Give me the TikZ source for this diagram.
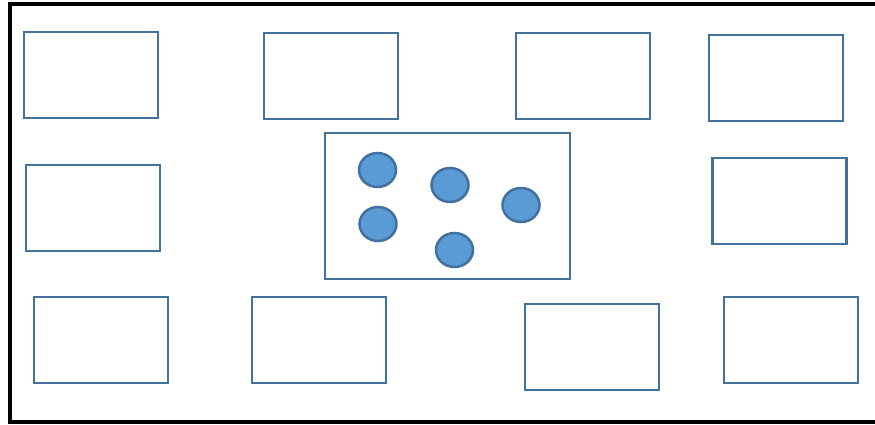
\documentclass[tikz,border=0pt]{standalone}
\usetikzlibrary{shapes.geometric}
\definecolor{boxblue}{HTML}{41719C}
\definecolor{dotfill}{HTML}{5B9BD5}
\begin{document}
\begin{tikzpicture}[x=1pt,y=-1pt,
  box/.style={draw=boxblue,line width=2.5pt,rectangle,inner sep=0pt,minimum width=134pt,minimum height=86pt},
  dot/.style={draw=boxblue,fill=dotfill,line width=2.5pt,ellipse,inner sep=0pt,minimum width=37pt,minimum height=34pt}]
\useasboundingbox (0,0) rectangle (875,425);
\draw[line width=3.5pt] (890,4) -- (10,4) -- (10,422) -- (890,422);
% row 1
\node[box] (a) at (91,75) {};
\node[box] (b) at (331,76) {};
\node[box] (c) at (583,76) {};
\node[box] (d) at (776,78) {};
% row 2
\node[box] (e) at (93,208) {};
\node[box,minimum width=245pt,minimum height=146pt] (m) at (447.5,206) {};
\node[box] (f) at (779.5,201) {};
% row 3
\node[box] (g) at (101,340) {};
\node[box] (h) at (319,340) {};
\node[box] (i) at (592,347) {};
\node[box] (j) at (791,340) {};
% dots
\node[dot] (c1) at (377.5,170) {};
\node[dot] (c2) at (450,185) {};
\node[dot] (c3) at (521,205) {};
\node[dot] (c4) at (378,224) {};
\node[dot] (c5) at (454.5,250) {};
\end{tikzpicture}
\end{document}
